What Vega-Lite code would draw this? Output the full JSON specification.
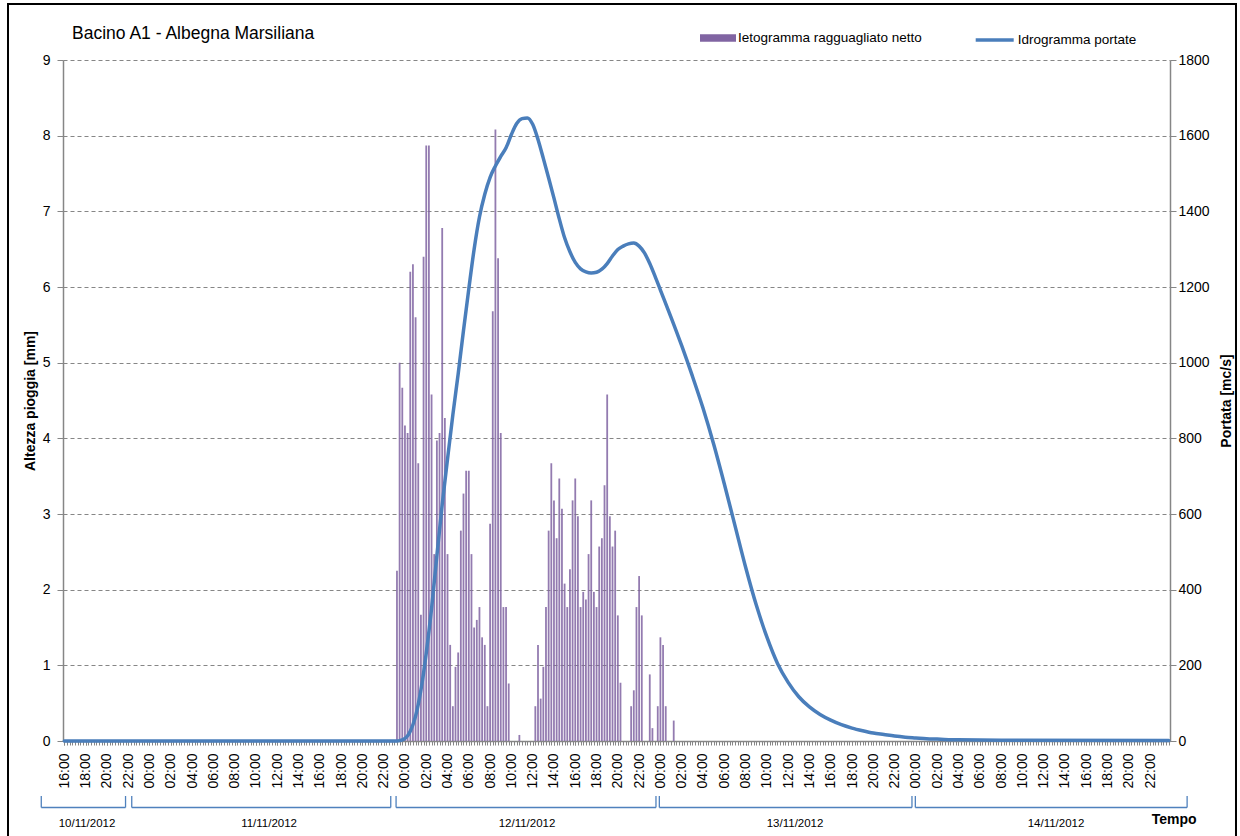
{
  "$schema": "https://vega.github.io/schema/vega-lite/v6.json",
  "width": 1107,
  "height": 681,
  "autosize": {"type": "none"},
  "padding": {"left": 63, "top": 60, "right": 70, "bottom": 95},
  "background": "white",
  "config": {"view": {"stroke": null}, "font": "Liberation Sans"},
  "title": {"text": "Bacino A1 - Albegna Marsiliana", "anchor": "start", "frame": "group", "dx": 9, "offset": -53, "baseline": "alphabetic", "fontSize": 17.5, "fontWeight": "normal", "font": "Liberation Sans", "color": "black"},
  "datasets": {
    "rain": [
      {"time": "2012-11-11T23:15:00", "mm": 2.25},
      {"time": "2012-11-11T23:30:00", "mm": 5.0},
      {"time": "2012-11-11T23:45:00", "mm": 4.67},
      {"time": "2012-11-12T00:00:00", "mm": 4.17},
      {"time": "2012-11-12T00:15:00", "mm": 4.07},
      {"time": "2012-11-12T00:30:00", "mm": 6.2},
      {"time": "2012-11-12T00:45:00", "mm": 6.3},
      {"time": "2012-11-12T01:00:00", "mm": 5.6},
      {"time": "2012-11-12T01:15:00", "mm": 3.67},
      {"time": "2012-11-12T01:30:00", "mm": 1.67},
      {"time": "2012-11-12T01:45:00", "mm": 6.4},
      {"time": "2012-11-12T02:00:00", "mm": 7.87},
      {"time": "2012-11-12T02:15:00", "mm": 7.87},
      {"time": "2012-11-12T02:30:00", "mm": 4.58},
      {"time": "2012-11-12T02:45:00", "mm": 2.47},
      {"time": "2012-11-12T03:00:00", "mm": 3.97},
      {"time": "2012-11-12T03:15:00", "mm": 4.07},
      {"time": "2012-11-12T03:30:00", "mm": 6.78},
      {"time": "2012-11-12T03:45:00", "mm": 4.27},
      {"time": "2012-11-12T04:00:00", "mm": 2.47},
      {"time": "2012-11-12T04:15:00", "mm": 1.27},
      {"time": "2012-11-12T04:30:00", "mm": 0.46},
      {"time": "2012-11-12T04:45:00", "mm": 0.98},
      {"time": "2012-11-12T05:00:00", "mm": 1.17},
      {"time": "2012-11-12T05:15:00", "mm": 2.78},
      {"time": "2012-11-12T05:30:00", "mm": 3.27},
      {"time": "2012-11-12T05:45:00", "mm": 3.57},
      {"time": "2012-11-12T06:00:00", "mm": 3.57},
      {"time": "2012-11-12T06:15:00", "mm": 2.47},
      {"time": "2012-11-12T06:30:00", "mm": 1.5},
      {"time": "2012-11-12T06:45:00", "mm": 1.6},
      {"time": "2012-11-12T07:00:00", "mm": 1.77},
      {"time": "2012-11-12T07:15:00", "mm": 1.37},
      {"time": "2012-11-12T07:30:00", "mm": 1.27},
      {"time": "2012-11-12T07:45:00", "mm": 0.46},
      {"time": "2012-11-12T08:00:00", "mm": 2.87},
      {"time": "2012-11-12T08:15:00", "mm": 5.68},
      {"time": "2012-11-12T08:30:00", "mm": 8.08},
      {"time": "2012-11-12T08:45:00", "mm": 6.38},
      {"time": "2012-11-12T09:00:00", "mm": 4.07},
      {"time": "2012-11-12T09:15:00", "mm": 1.77},
      {"time": "2012-11-12T09:30:00", "mm": 1.77},
      {"time": "2012-11-12T09:45:00", "mm": 0.76},
      {"time": "2012-11-12T10:45:00", "mm": 0.08},
      {"time": "2012-11-12T12:15:00", "mm": 0.46},
      {"time": "2012-11-12T12:30:00", "mm": 1.27},
      {"time": "2012-11-12T12:45:00", "mm": 0.56},
      {"time": "2012-11-12T13:00:00", "mm": 0.98},
      {"time": "2012-11-12T13:15:00", "mm": 1.77},
      {"time": "2012-11-12T13:30:00", "mm": 2.78},
      {"time": "2012-11-12T13:45:00", "mm": 3.67},
      {"time": "2012-11-12T14:00:00", "mm": 3.18},
      {"time": "2012-11-12T14:15:00", "mm": 2.68},
      {"time": "2012-11-12T14:30:00", "mm": 3.47},
      {"time": "2012-11-12T14:45:00", "mm": 3.07},
      {"time": "2012-11-12T15:00:00", "mm": 2.08},
      {"time": "2012-11-12T15:15:00", "mm": 1.77},
      {"time": "2012-11-12T15:30:00", "mm": 2.27},
      {"time": "2012-11-12T15:45:00", "mm": 3.18},
      {"time": "2012-11-12T16:00:00", "mm": 3.47},
      {"time": "2012-11-12T16:15:00", "mm": 2.97},
      {"time": "2012-11-12T16:30:00", "mm": 1.77},
      {"time": "2012-11-12T16:45:00", "mm": 1.97},
      {"time": "2012-11-12T17:00:00", "mm": 1.87},
      {"time": "2012-11-12T17:15:00", "mm": 2.47},
      {"time": "2012-11-12T17:30:00", "mm": 3.18},
      {"time": "2012-11-12T17:45:00", "mm": 1.97},
      {"time": "2012-11-12T18:00:00", "mm": 1.77},
      {"time": "2012-11-12T18:15:00", "mm": 2.57},
      {"time": "2012-11-12T18:30:00", "mm": 2.68},
      {"time": "2012-11-12T18:45:00", "mm": 3.38},
      {"time": "2012-11-12T19:00:00", "mm": 4.58},
      {"time": "2012-11-12T19:15:00", "mm": 2.97},
      {"time": "2012-11-12T19:30:00", "mm": 2.57},
      {"time": "2012-11-12T19:45:00", "mm": 2.78},
      {"time": "2012-11-12T20:00:00", "mm": 1.66},
      {"time": "2012-11-12T20:15:00", "mm": 0.77},
      {"time": "2012-11-12T21:15:00", "mm": 0.46},
      {"time": "2012-11-12T21:30:00", "mm": 0.67},
      {"time": "2012-11-12T21:45:00", "mm": 1.77},
      {"time": "2012-11-12T22:00:00", "mm": 2.18},
      {"time": "2012-11-12T22:15:00", "mm": 1.66},
      {"time": "2012-11-12T23:00:00", "mm": 0.88},
      {"time": "2012-11-12T23:15:00", "mm": 0.17},
      {"time": "2012-11-12T23:45:00", "mm": 0.46},
      {"time": "2012-11-13T00:00:00", "mm": 1.37},
      {"time": "2012-11-13T00:15:00", "mm": 1.27},
      {"time": "2012-11-13T00:30:00", "mm": 0.46},
      {"time": "2012-11-13T01:15:00", "mm": 0.27}
    ],
    "flow": [
      {"time": "2012-11-10T16:00:00", "Q": 0},
      {"time": "2012-11-11T23:15:00", "Q": 0},
      {"time": "2012-11-11T23:30:00", "Q": 1},
      {"time": "2012-11-11T23:45:00", "Q": 3},
      {"time": "2012-11-12T00:00:00", "Q": 7},
      {"time": "2012-11-12T00:15:00", "Q": 14},
      {"time": "2012-11-12T00:30:00", "Q": 26},
      {"time": "2012-11-12T00:45:00", "Q": 43},
      {"time": "2012-11-12T01:00:00", "Q": 66},
      {"time": "2012-11-12T01:15:00", "Q": 97},
      {"time": "2012-11-12T01:30:00", "Q": 135},
      {"time": "2012-11-12T01:45:00", "Q": 180},
      {"time": "2012-11-12T02:00:00", "Q": 232},
      {"time": "2012-11-12T02:30:00", "Q": 350},
      {"time": "2012-11-12T03:00:00", "Q": 490},
      {"time": "2012-11-12T03:30:00", "Q": 625},
      {"time": "2012-11-12T04:00:00", "Q": 745},
      {"time": "2012-11-12T04:30:00", "Q": 862},
      {"time": "2012-11-12T05:00:00", "Q": 970},
      {"time": "2012-11-12T05:30:00", "Q": 1085},
      {"time": "2012-11-12T06:00:00", "Q": 1195},
      {"time": "2012-11-12T06:30:00", "Q": 1300},
      {"time": "2012-11-12T07:00:00", "Q": 1385},
      {"time": "2012-11-12T07:30:00", "Q": 1445},
      {"time": "2012-11-12T08:00:00", "Q": 1490},
      {"time": "2012-11-12T08:30:00", "Q": 1520},
      {"time": "2012-11-12T09:00:00", "Q": 1545},
      {"time": "2012-11-12T09:30:00", "Q": 1568},
      {"time": "2012-11-12T10:00:00", "Q": 1603},
      {"time": "2012-11-12T10:30:00", "Q": 1632},
      {"time": "2012-11-12T11:00:00", "Q": 1645},
      {"time": "2012-11-12T11:30:00", "Q": 1647},
      {"time": "2012-11-12T12:00:00", "Q": 1630},
      {"time": "2012-11-12T12:30:00", "Q": 1590},
      {"time": "2012-11-12T13:00:00", "Q": 1540},
      {"time": "2012-11-12T13:30:00", "Q": 1488},
      {"time": "2012-11-12T14:00:00", "Q": 1435},
      {"time": "2012-11-12T14:30:00", "Q": 1380},
      {"time": "2012-11-12T15:00:00", "Q": 1330},
      {"time": "2012-11-12T15:30:00", "Q": 1293},
      {"time": "2012-11-12T16:00:00", "Q": 1265},
      {"time": "2012-11-12T16:30:00", "Q": 1248},
      {"time": "2012-11-12T17:00:00", "Q": 1240},
      {"time": "2012-11-12T17:30:00", "Q": 1237},
      {"time": "2012-11-12T18:00:00", "Q": 1239},
      {"time": "2012-11-12T18:30:00", "Q": 1247},
      {"time": "2012-11-12T19:00:00", "Q": 1262},
      {"time": "2012-11-12T19:30:00", "Q": 1282},
      {"time": "2012-11-12T20:00:00", "Q": 1299},
      {"time": "2012-11-12T20:30:00", "Q": 1308},
      {"time": "2012-11-12T21:00:00", "Q": 1314},
      {"time": "2012-11-12T21:30:00", "Q": 1316},
      {"time": "2012-11-12T22:00:00", "Q": 1308},
      {"time": "2012-11-12T22:30:00", "Q": 1290},
      {"time": "2012-11-12T23:00:00", "Q": 1262},
      {"time": "2012-11-12T23:30:00", "Q": 1228},
      {"time": "2012-11-13T00:00:00", "Q": 1192},
      {"time": "2012-11-13T01:00:00", "Q": 1120},
      {"time": "2012-11-13T02:00:00", "Q": 1045},
      {"time": "2012-11-13T03:00:00", "Q": 965},
      {"time": "2012-11-13T04:00:00", "Q": 880},
      {"time": "2012-11-13T05:00:00", "Q": 785},
      {"time": "2012-11-13T06:00:00", "Q": 680},
      {"time": "2012-11-13T07:00:00", "Q": 570},
      {"time": "2012-11-13T08:00:00", "Q": 460},
      {"time": "2012-11-13T09:00:00", "Q": 360},
      {"time": "2012-11-13T10:00:00", "Q": 275},
      {"time": "2012-11-13T11:00:00", "Q": 205},
      {"time": "2012-11-13T12:00:00", "Q": 155},
      {"time": "2012-11-13T13:00:00", "Q": 117},
      {"time": "2012-11-13T14:00:00", "Q": 90},
      {"time": "2012-11-13T15:00:00", "Q": 70},
      {"time": "2012-11-13T16:00:00", "Q": 55},
      {"time": "2012-11-13T17:00:00", "Q": 43},
      {"time": "2012-11-13T18:00:00", "Q": 34},
      {"time": "2012-11-13T19:00:00", "Q": 27},
      {"time": "2012-11-13T20:00:00", "Q": 21},
      {"time": "2012-11-13T21:00:00", "Q": 17},
      {"time": "2012-11-13T22:00:00", "Q": 13},
      {"time": "2012-11-13T23:00:00", "Q": 10},
      {"time": "2012-11-14T00:00:00", "Q": 8},
      {"time": "2012-11-14T01:00:00", "Q": 6},
      {"time": "2012-11-14T02:00:00", "Q": 5},
      {"time": "2012-11-14T04:00:00", "Q": 3},
      {"time": "2012-11-14T08:00:00", "Q": 2},
      {"time": "2012-11-14T23:45:00", "Q": 1}
    ],
    "days": [
      {"day": "10/11/2012", "start": "2012-11-10T13:50:00", "end": "2012-11-10T21:45:00", "label_time": "2012-11-10T18:08:00"},
      {"day": "11/11/2012", "start": "2012-11-10T22:20:00", "end": "2012-11-11T22:40:00", "label_time": "2012-11-11T11:14:00"},
      {"day": "12/11/2012", "start": "2012-11-11T23:10:00", "end": "2012-11-12T23:35:00", "label_time": "2012-11-12T11:28:00"},
      {"day": "13/11/2012", "start": "2012-11-12T23:54:00", "end": "2012-11-13T23:38:00", "label_time": "2012-11-13T12:39:00"},
      {"day": "14/11/2012", "start": "2012-11-13T23:57:00", "end": "2012-11-15T01:29:00", "label_time": "2012-11-14T13:10:00"}
    ]
  },
  "layer": [
    {
      "data": {"name": "rain"},
      "mark": {"type": "bar", "width": 1.8, "fillOpacity": 0.85},
      "encoding": {
        "x": {
          "field": "time", "type": "temporal",
          "scale": {"domain": [{"year": 2012, "month": 11, "date": 10, "hours": 15, "minutes": 52, "seconds": 30}, {"year": 2012, "month": 11, "date": 14, "hours": 23, "minutes": 52, "seconds": 30}], "padding": 0},
          "axis": {
            "title": "Tempo",
            "values": [
              {"year": 2012, "month": 11, "date": 10, "hours": 16}, {"year": 2012, "month": 11, "date": 10, "hours": 18}, {"year": 2012, "month": 11, "date": 10, "hours": 20}, {"year": 2012, "month": 11, "date": 10, "hours": 22},
              {"year": 2012, "month": 11, "date": 11, "hours": 0}, {"year": 2012, "month": 11, "date": 11, "hours": 2}, {"year": 2012, "month": 11, "date": 11, "hours": 4}, {"year": 2012, "month": 11, "date": 11, "hours": 6}, {"year": 2012, "month": 11, "date": 11, "hours": 8}, {"year": 2012, "month": 11, "date": 11, "hours": 10}, {"year": 2012, "month": 11, "date": 11, "hours": 12}, {"year": 2012, "month": 11, "date": 11, "hours": 14}, {"year": 2012, "month": 11, "date": 11, "hours": 16}, {"year": 2012, "month": 11, "date": 11, "hours": 18}, {"year": 2012, "month": 11, "date": 11, "hours": 20}, {"year": 2012, "month": 11, "date": 11, "hours": 22},
              {"year": 2012, "month": 11, "date": 12, "hours": 0}, {"year": 2012, "month": 11, "date": 12, "hours": 2}, {"year": 2012, "month": 11, "date": 12, "hours": 4}, {"year": 2012, "month": 11, "date": 12, "hours": 6}, {"year": 2012, "month": 11, "date": 12, "hours": 8}, {"year": 2012, "month": 11, "date": 12, "hours": 10}, {"year": 2012, "month": 11, "date": 12, "hours": 12}, {"year": 2012, "month": 11, "date": 12, "hours": 14}, {"year": 2012, "month": 11, "date": 12, "hours": 16}, {"year": 2012, "month": 11, "date": 12, "hours": 18}, {"year": 2012, "month": 11, "date": 12, "hours": 20}, {"year": 2012, "month": 11, "date": 12, "hours": 22},
              {"year": 2012, "month": 11, "date": 13, "hours": 0}, {"year": 2012, "month": 11, "date": 13, "hours": 2}, {"year": 2012, "month": 11, "date": 13, "hours": 4}, {"year": 2012, "month": 11, "date": 13, "hours": 6}, {"year": 2012, "month": 11, "date": 13, "hours": 8}, {"year": 2012, "month": 11, "date": 13, "hours": 10}, {"year": 2012, "month": 11, "date": 13, "hours": 12}, {"year": 2012, "month": 11, "date": 13, "hours": 14}, {"year": 2012, "month": 11, "date": 13, "hours": 16}, {"year": 2012, "month": 11, "date": 13, "hours": 18}, {"year": 2012, "month": 11, "date": 13, "hours": 20}, {"year": 2012, "month": 11, "date": 13, "hours": 22},
              {"year": 2012, "month": 11, "date": 14, "hours": 0}, {"year": 2012, "month": 11, "date": 14, "hours": 2}, {"year": 2012, "month": 11, "date": 14, "hours": 4}, {"year": 2012, "month": 11, "date": 14, "hours": 6}, {"year": 2012, "month": 11, "date": 14, "hours": 8}, {"year": 2012, "month": 11, "date": 14, "hours": 10}, {"year": 2012, "month": 11, "date": 14, "hours": 12}, {"year": 2012, "month": 11, "date": 14, "hours": 14}, {"year": 2012, "month": 11, "date": 14, "hours": 16}, {"year": 2012, "month": 11, "date": 14, "hours": 18}, {"year": 2012, "month": 11, "date": 14, "hours": 20}, {"year": 2012, "month": 11, "date": 14, "hours": 22}
            ],
            "format": "%H:%M",
            "labelAngle": 270, "labelFontSize": 14, "labelColor": "black", "labelPadding": 8,
            "labelOverlap": false, "labelFlush": false, "labelBound": false,
            "tickColor": "#868686", "tickSize": 4, "domainColor": "#868686", "domainWidth": 1.5, "grid": false,
            "titleAnchor": "end", "titleAlign": "right", "titleBaseline": "alphabetic", "titleX": 1133, "titleY": 82,
            "titleFontSize": 14, "titleFontWeight": "bold", "titleColor": "black"
          }
        },
        "y": {
          "field": "mm", "type": "quantitative",
          "scale": {"domain": [0, 9], "nice": false},
          "axis": {
            "title": "Altezza pioggia [mm]", "values": [0, 1, 2, 3, 4, 5, 6, 7, 8, 9],
            "grid": true, "gridDash": [4, 3], "gridColor": "#868686", "gridWidth": 1.2,
            "domainColor": "#868686", "domainWidth": 1.5, "tickColor": "#868686", "tickSize": 6,
            "labelFontSize": 14, "labelColor": "black", "labelPadding": 7,
            "titleFontSize": 14, "titleFontWeight": "bold", "titleColor": "black", "titlePadding": 5
          }
        },
        "fill": {"datum": "Ietogramma ragguagliato netto", "scale": {"range": ["#8064A2"]},
          "legend": {"orient": "none", "legendX": 637, "legendY": -40, "title": null, "symbolType": "M-1,-0.21H1V0.21H-1Z", "symbolSize": 1296, "labelFontSize": 13.5, "labelColor": "black", "labelOffset": 2, "labelLimit": 0, "symbolStrokeWidth": 0}}
      }
    },
    {
      "data": {"name": "flow"},
      "mark": {"type": "line", "strokeWidth": 3.5, "interpolate": "monotone", "strokeCap": "round", "strokeJoin": "round"},
      "encoding": {
        "x": {"field": "time", "type": "temporal",
          "axis": {"orient": "bottom", "tickCount": 416, "labels": false, "domain": false, "title": null, "grid": false, "tickSize": 4, "tickColor": "#868686", "tickWidth": 1}},
        "y": {
          "field": "Q", "type": "quantitative",
          "scale": {"domain": [0, 1800], "nice": false},
          "axis": {
            "orient": "right", "title": "Portata [mc/s]", "values": [0, 200, 400, 600, 800, 1000, 1200, 1400, 1600, 1800], "format": "d",
            "grid": false, "domainColor": "#868686", "domainWidth": 1.5, "tickColor": "#868686", "tickSize": 6,
            "labelFontSize": 14, "labelColor": "black", "labelPadding": 2,
            "titleAngle": 270, "titleBaseline": "top", "titleFontSize": 14, "titleFontWeight": "bold", "titleColor": "black", "titlePadding": 10
          }
        },
        "stroke": {"datum": "Idrogramma portate", "scale": {"range": ["#4A7EBB"]},
          "legend": {"orient": "none", "legendX": 910.7, "legendY": -41, "title": null, "symbolType": "stroke", "symbolSize": 1444, "symbolStrokeWidth": 3.5, "labelFontSize": 13.5, "labelColor": "black", "labelOffset": 2, "labelLimit": 0}}
      }
    },
    {
      "data": {"name": "days"},
      "mark": {"type": "rule", "color": "#4F81BD", "strokeWidth": 1.3},
      "encoding": {
        "x": {"field": "start", "type": "temporal", "axis": null},
        "x2": {"field": "end"},
        "y": {"datum": -0.879, "type": "quantitative", "scale": {"domain": [0, 9], "nice": false}, "axis": null}
      }
    },
    {
      "data": {"name": "days"},
      "mark": {"type": "rule", "color": "#4F81BD", "strokeWidth": 1.3},
      "encoding": {
        "x": {"field": "start", "type": "temporal", "axis": null},
        "y": {"datum": -0.727, "type": "quantitative", "scale": {"domain": [0, 9], "nice": false}, "axis": null},
        "y2": {"datum": -0.879}
      }
    },
    {
      "data": {"name": "days"},
      "mark": {"type": "rule", "color": "#4F81BD", "strokeWidth": 1.3},
      "encoding": {
        "x": {"field": "end", "type": "temporal", "axis": null},
        "y": {"datum": -0.727, "type": "quantitative", "scale": {"domain": [0, 9], "nice": false}, "axis": null},
        "y2": {"datum": -0.879}
      }
    },
    {
      "data": {"name": "days"},
      "mark": {"type": "text", "fontSize": 11.5, "color": "black", "baseline": "middle", "align": "center"},
      "encoding": {
        "x": {"field": "label_time", "type": "temporal", "axis": null},
        "y": {"datum": -1.1, "type": "quantitative", "scale": {"domain": [0, 9], "nice": false}, "axis": null},
        "text": {"field": "day"}
      }
    },
    {
      "data": {"values": [{}]},
      "mark": {"type": "rect", "fill": "white", "fillOpacity": 0, "stroke": "black", "strokeWidth": 2},
      "encoding": {
        "x": {"datum": {"year": 2012, "month": 11, "date": 10, "hours": 10, "minutes": 42, "seconds": 30}, "type": "temporal", "axis": null},
        "x2": {"datum": {"year": 2012, "month": 11, "date": 15, "hours": 6, "minutes": 4, "seconds": 30}},
        "y": {"datum": 9.74, "type": "quantitative", "scale": {"domain": [0, 9], "nice": false}, "axis": null},
        "y2": {"datum": -1.3}
      }
    }
  ],
  "resolve": {"scale": {"y": "independent"}, "axis": {"x": "independent"}}
}
